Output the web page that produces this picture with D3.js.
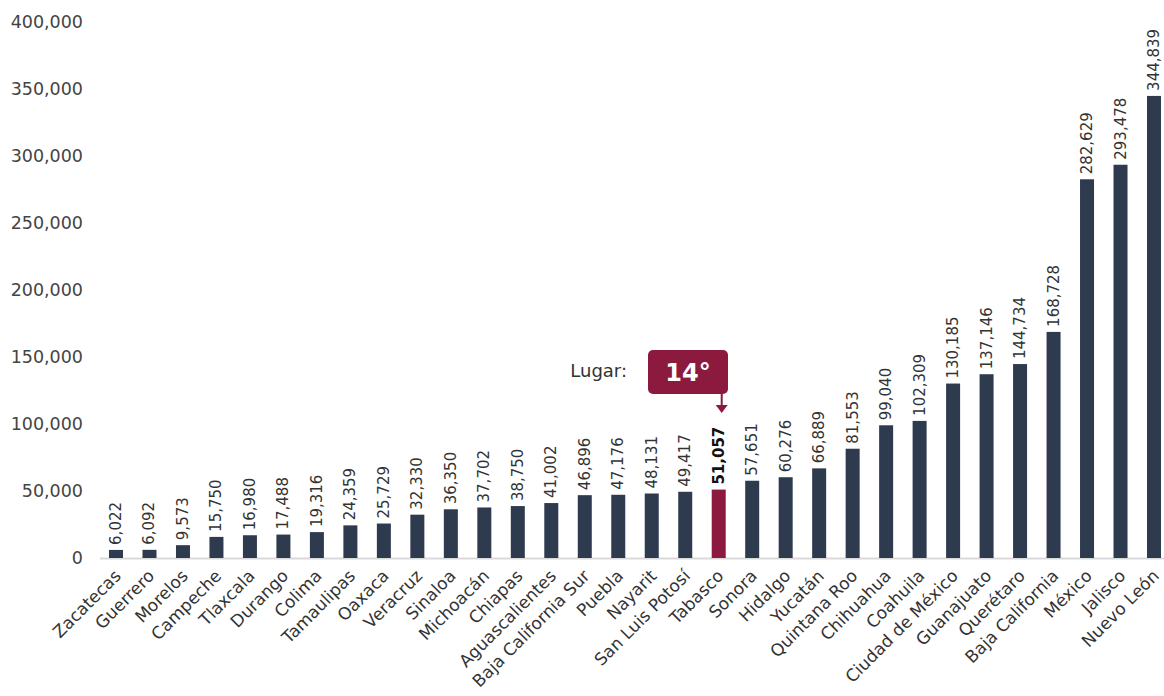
<!DOCTYPE html>
<html>
<head>
<meta charset="utf-8">
<script src="https://cdn.jsdelivr.net/npm/d3@7"></script>
<style>
  body { margin: 0; background: #fff; }
  svg text { font-family: "DejaVu Sans", sans-serif; }
</style>
</head>
<body>
<svg id="chart" width="1164" height="696"></svg>
<script>
  const states = ["Zacatecas","Guerrero","Morelos","Campeche","Tlaxcala","Durango","Colima","Tamaulipas","Oaxaca","Veracruz","Sinaloa","Michoacán","Chiapas","Aguascalientes","Baja California Sur","Puebla","Nayarit","San Luis Potosí","Tabasco","Sonora","Hidalgo","Yucatán","Quintana Roo","Chihuahua","Coahuila","Ciudad de México","Guanajuato","Querétaro","Baja California","México","Jalisco","Nuevo León"];
  const values = [6022,6092,9573,15750,16980,17488,19316,24359,25729,32330,36350,37702,38750,41002,46896,47176,48131,49417,51057,57651,60276,66889,81553,99040,102309,130185,137146,144734,168728,282629,293478,344839];
  const yTicks = [0,50000,100000,150000,200000,250000,300000,350000,400000];
  const highlight = "Tabasco";
  const rankLabel = "14°";

  const navy = "#2e3a4e";
  const crimson = "#8b1a3e";
  const svg = d3.select("#chart");

  const x = d3.scalePoint().domain(states).range([116, 1154]);
  const y = d3.scaleLinear().domain([0, 400000]).range([558, 22]);
  const barW = 14;
  const fmt = d3.format(",");

  // y axis labels
  svg.append("g").selectAll("text")
    .data(yTicks).join("text")
    .attr("x", 83).attr("y", d => y(d))
    .attr("dy", "0.35em")
    .attr("text-anchor", "end")
    .attr("font-size", 17.5)
    .attr("fill", "#444")
    .text(d => fmt(d));

  // baseline
  svg.append("line")
    .attr("x1", 100).attr("x2", 1164)
    .attr("y1", y(0) + 0.5).attr("y2", y(0) + 0.5)
    .attr("stroke", "#d9d9d9").attr("stroke-width", 2);

  // bars
  svg.append("g").selectAll("rect")
    .data(states).join("rect")
    .attr("x", (d) => x(d) - barW / 2)
    .attr("y", (d, i) => y(values[i]))
    .attr("width", barW)
    .attr("height", (d, i) => y(0) - y(values[i]))
    .attr("fill", d => d === highlight ? crimson : navy);

  // value labels
  svg.append("g").selectAll("text")
    .data(states).join("text")
    .attr("transform", (d, i) => `translate(${x(d) + 5},${y(values[i]) - 5}) rotate(-90)`)
    .attr("font-size", 15)
    .attr("font-weight", d => d === highlight ? 700 : 400)
    .attr("fill", d => d === highlight ? "#111" : "#333")
    .text((d, i) => fmt(values[i]));

  // category labels
  svg.append("g").selectAll("text")
    .data(states).join("text")
    .attr("transform", d => `translate(${x(d) + 6},${577}) rotate(-45)`)
    .attr("text-anchor", "end")
    .attr("font-size", 17)
    .attr("fill", "#333")
    .text(d => d);

  // callout
  const hx = x(highlight);
  const call = svg.append("g");
  call.append("text")
    .attr("x", 627).attr("y", 371)
    .attr("dy", "0.35em")
    .attr("text-anchor", "end")
    .attr("font-size", 18)
    .attr("fill", "#333")
    .text("Lugar:");
  call.append("rect")
    .attr("x", 648).attr("y", 350)
    .attr("width", 80).attr("height", 44)
    .attr("rx", 5)
    .attr("fill", crimson);
  call.append("text")
    .attr("x", 688).attr("y", 373)
    .attr("dy", "0.35em")
    .attr("text-anchor", "middle")
    .attr("font-size", 24)
    .attr("font-weight", 700)
    .attr("fill", "#fff")
    .text(rankLabel);
  call.append("line")
    .attr("x1", hx + 3).attr("x2", hx + 3)
    .attr("y1", 392).attr("y2", 406)
    .attr("stroke", crimson).attr("stroke-width", 2);
  call.append("path")
    .attr("d", `M${hx - 3},${405} L${hx + 9},${405} L${hx + 3},${413} Z`)
    .attr("fill", crimson);
</script>
</body>
</html>
